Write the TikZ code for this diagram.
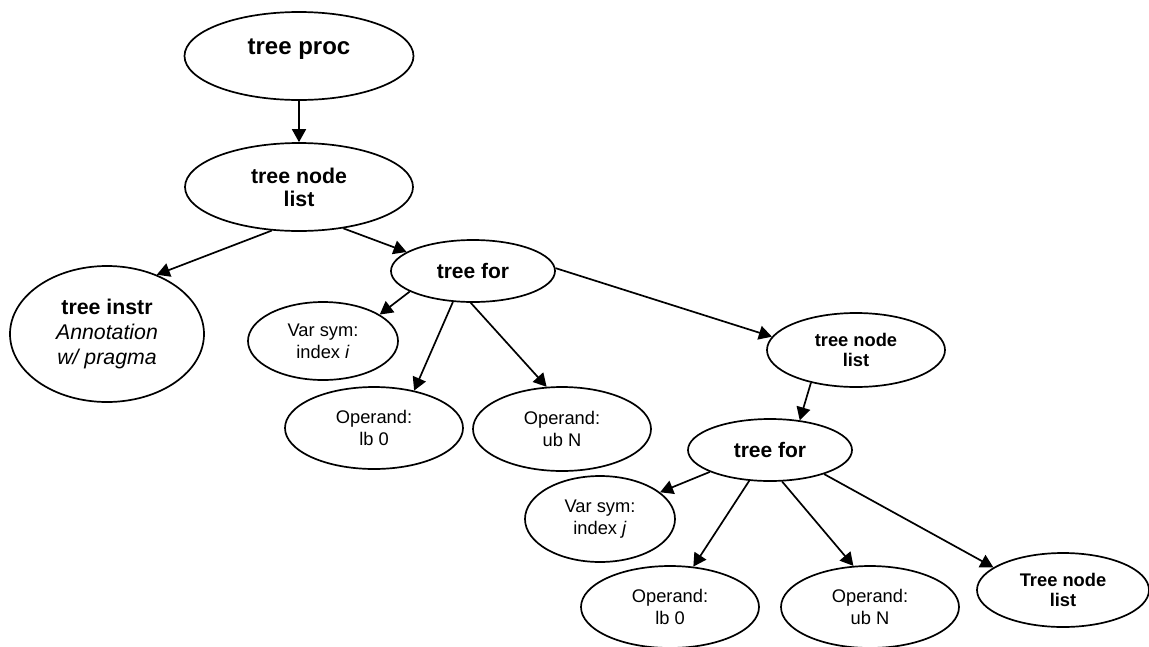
\documentclass[tikz,border=0pt]{standalone}
\usepackage{fontspec}
\setmainfont{Liberation Sans}
\usetikzlibrary{shapes.geometric,arrows.meta}
\begin{document}
\begin{tikzpicture}[x=1pt,y=-1pt,
  ell/.style={draw, ellipse, line width=1.7pt, inner sep=0pt, align=center},
  bigb/.style={font=\fontsize{21.3}{23}\selectfont\bfseries},
  forb/.style={font=\fontsize{21}{23}\selectfont\bfseries},
  small/.style={font=\fontsize{18.3}{22}\selectfont},
  smallb/.style={font=\fontsize{18.3}{20}\selectfont\bfseries},
  arr/.style={line width=1.7pt, -{Triangle[length=13pt,width=14pt]}}
]
\useasboundingbox (0,0) rectangle (1149,646);
\node[ell, minimum width=229pt, minimum height=88pt, font=\fontsize{24}{26}\selectfont\bfseries, text height=10pt, text depth=13.8pt] (proc) at (299,56) {tree proc};
\node[ell, bigb, minimum width=228pt, minimum height=88pt] (tnl1) at (299,187) {tree node\\list};
\node[ell, font=\fontsize{21.3}{25}\selectfont, minimum width=194pt, minimum height=136pt] (instr) at (107,334) {\textbf{tree instr}\\\textit{Annotation}\\\textit{w/ pragma}};
\node[ell, forb, minimum width=164pt, minimum height=62pt] (tf1) at (473,271) {tree for};
\node[ell, small, minimum width=150pt, minimum height=78pt] (vsi) at (323,341) {Var sym:\\index \textit{i}};
\node[ell, small, minimum width=178pt, minimum height=82pt] (lb0a) at (374,428) {Operand:\\lb 0};
\node[ell, small, minimum width=178pt, minimum height=84pt] (ubNa) at (562,429) {Operand:\\ub N};
\node[ell, smallb, minimum width=178pt, minimum height=74pt] (tnl2) at (856,350) {tree node\\list};
\node[ell, forb, minimum width=164pt, minimum height=62pt] (tf2) at (770,450) {tree for};
\node[ell, small, minimum width=150pt, minimum height=86pt] (vsj) at (600,519) {Var sym:\\index \textit{j}};
\node[ell, small, minimum width=178pt, minimum height=82pt] (lb0b) at (670,607) {Operand:\\lb 0};
\node[ell, small, minimum width=178pt, minimum height=82pt] (ubNb) at (870,607) {Operand:\\ub N};
\node[ell, smallb, minimum width=172pt, minimum height=74pt] (tnl3) at (1063,590) {Tree node\\list};

\draw[arr] (proc.south) -- (tnl1.north);
\draw[arr] (tnl1.238) -- (instr.50);
\draw[arr] (tnl1.317) -- (tf1.164);
\draw[arr] (tf1.198) -- (vsi.25);
\draw[arr] (tf1.237) -- (lb0a.43);
\draw[arr] (tf1.266) -- (ubNa.110);
\draw[arr] (tf1.2) -- (tnl2.171);
\draw[arr] (tnl2.216) -- (tf2.45);
\draw[arr] (tf2.200) -- (vsj.24);
\draw[arr] (tf2.236) -- (lb0b.60);
\draw[arr] (tf2.291) -- (ubNb.112);
\draw[arr] (tf2.336) -- (tnl3.162);
\end{tikzpicture}
\end{document}
